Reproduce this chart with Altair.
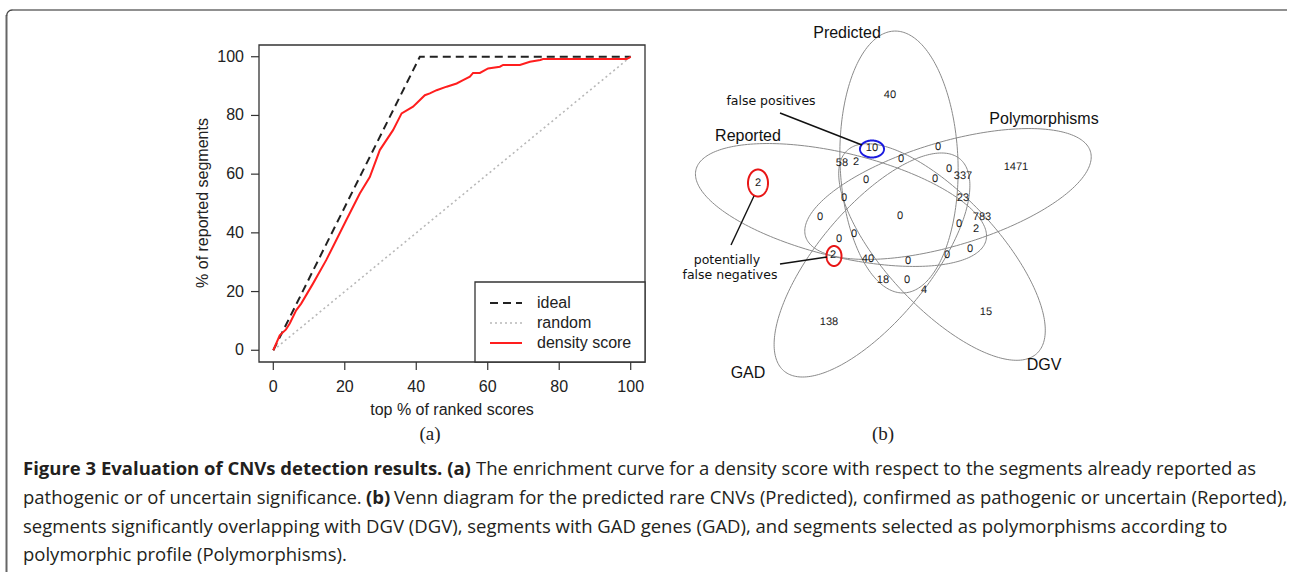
import numpy as np
import pandas as pd
import altair as alt

# ---------------- panel (a) data ----------------
ideal_x = [0, 41, 100]
ideal_y = [0, 100, 100]
random_x = [0, 100]
random_y = [0, 100]
dens_x = [0, 1.8, 3.5, 4.6, 6.4, 7.8, 11.1, 14.8, 17.6, 20.4, 24.2, 27.0, 29.8, 33.5,
          35.9, 39.1, 42.4, 43.8, 45.7, 48.5, 51.3, 53.1, 55.0, 55.9, 57.8, 60.1, 63.4,
          64.3, 69.0, 71.8, 74.7, 75.5, 98.9, 100]
dens_y = [0, 5.1, 7.0, 9.1, 13.6, 15.9, 22.7, 30.7, 37.5, 44.3, 53.4, 59.0, 68.2, 75.0,
          80.7, 83.0, 86.9, 87.5, 88.6, 89.8, 90.9, 92.0, 93.2, 94.5, 94.5, 96.0, 96.6,
          97.2, 97.2, 98.3, 98.9, 99.2, 99.2, 100]
tick_values = [0, 20, 40, 60, 80, 100]
legend_labels = ["ideal", "random", "density score"]

# ---------------- panel (b) data ----------------
set_names = ["Predicted", "Polymorphisms", "DGV", "GAD", "Reported"]
set_center_x = [-1, 48, 42, -28, -59]
set_center_y = [54, 22, -36, -49, 11]
set_tilt_deg = [-91.7, -19.7, 52.3, 124.3, 196.3]
semi_major = 131
semi_minor = 51.3
x_stretch = 1.15
set_label_x = [-53, 144, 144, -152, -152]
set_label_y = [183, 97, -149, -157, 80]

count_labels = ["40", "10", "0", "58", "2", "0", "1471", "0", "337", "0", "0", "2",
                "23", "0", "0", "0", "783", "0", "2", "0", "0", "2", "40", "0", "0",
                "0", "18", "0", "4", "138", "15"]
count_px = [890, 872, 938, 842, 856, 901, 1016, 949, 963, 866, 935, 758,
            963, 844, 820, 900, 982, 959, 976, 854, 839, 833, 868, 908, 947,
            970, 883, 907, 924, 829, 986]
count_py = [95, 148, 147, 163, 162, 159, 167, 169, 176, 180, 179, 183,
            198, 198, 217, 216, 217, 224, 229, 234, 239, 255, 259, 261, 255,
            249, 280, 280, 290, 322, 312]

mark_cx = [-28, -142, -66]
mark_cy = [67, 33, -40]
mark_rx = [12, 10, 7.5]
mark_ry = [8.5, 13.5, 10]
mark_colors = ["#1a1adf", "#e81515", "#e81515"]

leader_x1 = [-120, -146, -120]
leader_y1 = [103, 20, -48]
leader_x2 = [-38, -169, -73]
leader_y2 = [71, -29, -41]

note_texts = ["false positives", "potentially", "false negatives"]
note_x = [-129, -173, -170]
note_y = [115, -44, -59]

# ---------------- scales ----------------
ax_x = alt.Scale(domain=[-4, 104], range=[259, 645], nice=False, zero=False)
ax_y = alt.Scale(domain=[-4, 104], range=[362, 45], nice=False, zero=False)
vx_s = alt.Scale(domain=[-210, 210], range=[690, 1110], nice=False, zero=False)
vy_s = alt.Scale(domain=[-220, 220], range=[436, -4], nice=False, zero=False)

FONT = "Liberation Sans"
one = pd.DataFrame({"a": [0]})


def AX(f):
    return alt.X(f, type="quantitative", scale=ax_x, axis=None)


def AY(f):
    return alt.Y(f, type="quantitative", scale=ax_y, axis=None)


def VX(f):
    return alt.X(f, type="quantitative", scale=vx_s, axis=None)


def VY(f):
    return alt.Y(f, type="quantitative", scale=vy_s, axis=None)


layers = []

# figure frame
layers.append(alt.Chart(one).mark_rule(color="#222", strokeWidth=1.2).encode(
    x=alt.value(12), x2=alt.value(1287), y=alt.value(10)))
layers.append(alt.Chart(one).mark_rule(color="#666", strokeWidth=2).encode(
    x=alt.value(6.5), y=alt.value(15), y2=alt.value(572)))
layers.append(alt.Chart(one).mark_arc(stroke="#444", strokeWidth=1.4, filled=False, fill=None,
                                      radius=5.5, radius2=5.5, theta=4.71, theta2=6.28).encode(
    x=alt.value(12.2), y=alt.value(15.5)))

# ---------------- panel (a) ----------------
df_ideal = pd.DataFrame({"ix": ideal_x, "iy": ideal_y})
df_rand = pd.DataFrame({"rx": random_x, "ry": random_y})
df_dens = pd.DataFrame({"dx": dens_x, "dy": dens_y})
df_ticks = pd.DataFrame({"tv": tick_values, "tt": [str(v) for v in tick_values]})

layers.append(alt.Chart(df_rand).mark_line(color="#b8b8b8", strokeWidth=1.6, strokeDash=[2, 3]).encode(
    x=AX("rx"), y=AY("ry")))
layers.append(alt.Chart(df_ideal).mark_line(color="#222", strokeWidth=2, strokeDash=[8, 5]).encode(
    x=AX("ix"), y=AY("iy")))
layers.append(alt.Chart(df_dens).mark_line(color="#ff1e1e", strokeWidth=2).encode(
    x=AX("dx"), y=AY("dy")))

# box
layers.append(alt.Chart(one).mark_rect(fill=None, stroke="#333", strokeWidth=1.3).encode(
    x=alt.X(datum=-4, type="quantitative", scale=ax_x, axis=None), x2=alt.X2(datum=104),
    y=alt.Y(datum=-4, type="quantitative", scale=ax_y, axis=None), y2=alt.Y2(datum=104)))

# ticks and labels
layers.append(alt.Chart(df_ticks).mark_rule(color="#333", strokeWidth=1.2).encode(
    x=AX("tv"), y=alt.value(362), y2=alt.value(370)))
layers.append(alt.Chart(df_ticks).mark_rule(color="#333", strokeWidth=1.2).encode(
    y=AY("tv"), x=alt.value(251), x2=alt.value(259)))
layers.append(alt.Chart(df_ticks).mark_text(font=FONT, fontSize=16, baseline="middle").encode(
    x=AX("tv"), y=alt.value(387), text="tt:N", color=alt.value("#222")))
layers.append(alt.Chart(df_ticks).mark_text(font=FONT, fontSize=16, baseline="middle", align="right").encode(
    y=AY("tv"), x=alt.value(244), text="tt:N", color=alt.value("#222")))
layers.append(alt.Chart(one).mark_text(font=FONT, fontSize=16, baseline="middle",
                                       text="top % of ranked scores").encode(
    x=alt.value(452), y=alt.value(410), color=alt.value("#222")))
layers.append(alt.Chart(one).mark_text(font=FONT, fontSize=16, baseline="middle",
                                       angle=270, text="% of reported segments").encode(
    x=alt.value(203), y=alt.value(203), color=alt.value("#222")))
layers.append(alt.Chart(one).mark_text(font="Liberation Serif", fontSize=19,
                                       baseline="middle", text="(a)").encode(
    x=alt.value(430), y=alt.value(434), color=alt.value("#222")))

# legend
layers.append(alt.Chart(one).mark_rect(fill="white", stroke="#333", strokeWidth=1.3).encode(
    x=alt.value(475), x2=alt.value(645), y=alt.value(282), y2=alt.value(362)))
leg_y = [303, 323, 343]
leg_styles = [("#222", [8, 5], 2), ("#b8b8b8", [2, 3], 1.6), ("#ff1e1e", [1, 0], 2)]
for lab, ly, (c, dash, w) in zip(legend_labels, leg_y, leg_styles):
    layers.append(alt.Chart(one).mark_rule(color=c, strokeDash=dash, strokeWidth=w).encode(
        x=alt.value(490), x2=alt.value(522), y=alt.value(ly)))
    layers.append(alt.Chart(one).mark_text(font=FONT, fontSize=16, align="left",
                                           baseline="middle", text=lab).encode(
        x=alt.value(537), y=alt.value(ly), color=alt.value("#222")))

# ---------------- panel (b) ----------------
t = np.linspace(0, 2 * np.pi, 241)
rows = []
for name, cx, cy, tilt in zip(set_names, set_center_x, set_center_y, set_tilt_deg):
    b = np.deg2rad(tilt)
    lx = semi_major * np.cos(t)
    ly = semi_minor * np.sin(t)
    rx = lx * np.cos(b) - ly * np.sin(b)
    ry = lx * np.sin(b) + ly * np.cos(b)
    for k in range(len(t)):
        rows.append({"eset": name, "ek": k, "ex": cx + x_stretch * rx[k], "ey": cy - ry[k]})
df_ell = pd.DataFrame(rows)
layers.append(alt.Chart(df_ell).mark_line(color="#8a8a8a", strokeWidth=1).encode(
    x=VX("ex"), y=VY("ey"), detail="eset:N", order="ek:Q"))

df_counts = pd.DataFrame({"ctext": count_labels,
                          "cx": [p - 900 for p in count_px],
                          "cy": [216 - p for p in count_py]})
layers.append(alt.Chart(df_counts).mark_text(font=FONT, fontSize=11, baseline="middle",
                                             angle=0.4).encode(
    x=VX("cx"), y=VY("cy"), text="ctext:N", color=alt.value("#1a1a1a")))

df_setlab = pd.DataFrame({"stext": set_names, "sx": set_label_x, "sy": set_label_y})
layers.append(alt.Chart(df_setlab).mark_text(font=FONT, fontSize=16, baseline="middle").encode(
    x=VX("sx"), y=VY("sy"), text="stext:N", color=alt.value("#111")))

# highlight ellipses (one layer each)
for j, (cx, cy, ex, ey, col) in enumerate(zip(mark_cx, mark_cy, mark_rx, mark_ry, mark_colors)):
    df_m = pd.DataFrame({"mk": list(range(len(t))),
                         "mx": cx + ex * np.cos(t),
                         "my": cy + ey * np.sin(t),
                         "mid": j})
    layers.append(alt.Chart(df_m).mark_line(strokeWidth=2, color=col).encode(
        x=VX("mx"), y=VY("my"), order="mk:Q"))

df_lead = pd.DataFrame({"lx1": leader_x1, "ly1": leader_y1, "lx2": leader_x2, "ly2": leader_y2})
layers.append(alt.Chart(df_lead).mark_rule(color="#111", strokeWidth=1.4).encode(
    x=VX("lx1"), y=VY("ly1"), x2="lx2:Q", y2="ly2:Q"))

df_notes = pd.DataFrame({"ntext": note_texts, "nx": note_x, "ny": note_y})
layers.append(alt.Chart(df_notes).mark_text(font="DejaVu Sans", fontSize=12.5, baseline="middle").encode(
    x=VX("nx"), y=VY("ny"), text="ntext:N", color=alt.value("#111")))

layers.append(alt.Chart(one).mark_text(font="Liberation Serif", fontSize=19,
                                       baseline="middle", text="(b)").encode(
    x=alt.value(883), y=alt.value(434), color=alt.value("#222")))

# ---------------- caption ----------------
CAP = "Open Sans"
cap_size = 18.5
cap_color = "#231f20"
cap_parts = [
    ("Figure 3 Evaluation of CNVs detection results. (a)", "bold", 23, 469),
    ("The enrichment curve for a density score with respect to the segments already reported as", "normal", 476, 469),
    ("pathogenic or of uncertain significance.", "normal", 23, 498),
    ("(b)", "bold", 366, 498),
    ("Venn diagram for the predicted rare CNVs (Predicted), confirmed as pathogenic or uncertain (Reported),", "normal", 394, 498),
    ("segments significantly overlapping with DGV (DGV), segments with GAD genes (GAD), and segments selected as polymorphisms according to", "normal", 23, 527),
    ("polymorphic profile (Polymorphisms).", "normal", 23, 555),
]
for txt, wt, cx, cy in cap_parts:
    layers.append(alt.Chart(one).mark_text(font=CAP, fontSize=cap_size, fontWeight=wt,
                                           align="left", baseline="middle", text=txt).encode(
        x=alt.value(cx), y=alt.value(cy), color=alt.value(cap_color)))

chart = alt.layer(*layers).resolve_scale(x="independent", y="independent").properties(
    width=1290, height=572, padding=0, autosize=alt.AutoSizeParams(type="none"),
    background="white"
).configure_view(stroke=None)

chart.save("out.html", embed_options={"renderer": "svg", "actions": False})
